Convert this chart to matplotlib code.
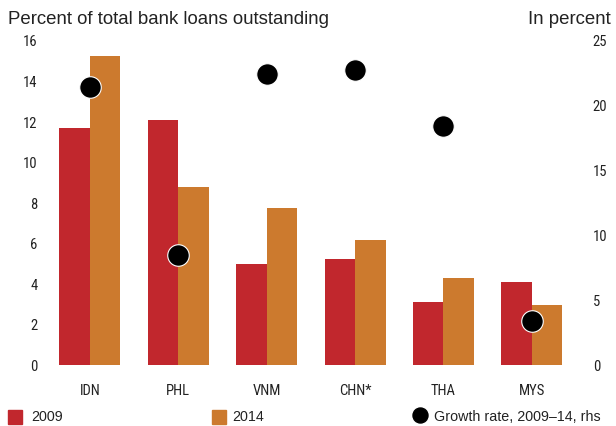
import matplotlib
matplotlib.use("Agg")
import matplotlib.pyplot as plt
import numpy as np
from matplotlib.lines import Line2D

categories = ["IDN", "PHL", "VNM", "CHN*", "THA", "MYS"]
share_2009 = [11.66, 12.07, 4.96, 5.21, 3.10, 4.08]
share_2014 = [15.23, 8.75, 7.72, 6.14, 4.28, 2.93]
growth = [21.4, 8.44, 22.36, 22.7, 18.35, 3.37]
left_ticks = [0, 2, 4, 6, 8, 10, 12, 14, 16]
right_ticks = [0, 5, 10, 15, 20, 25]

RED = "#C1272D"
ORANGE = "#CC7A2E"
TXT = "#222222"
COND = ["Liberation Sans Narrow", "Roboto Condensed", "DejaVu Sans Condensed",
        "Liberation Sans", "DejaVu Sans"]
REG = ["Liberation Sans", "DejaVu Sans"]
plt.rcParams["font.family"] = COND

fig = plt.figure(figsize=(6.16, 4.27), dpi=100)
ax = fig.add_axes([45.8 / 616, 1 - 365.5 / 427, (576 - 45.8) / 616, (365.5 - 41) / 427])
x = np.arange(len(categories))
w = 0.345
ax.bar(x - w / 2, share_2009, width=w, color=RED, linewidth=0)
ax.bar(x + w / 2, share_2014, width=w, color=ORANGE, linewidth=0)
ax.set_xlim(-0.5, len(categories) - 0.5)
ax.set_ylim(0, 16)
ax.set_yticks(left_ticks)
ax.set_xticks(x)
ax.set_xticklabels(categories)
for s in ax.spines.values():
    s.set_visible(False)
ax.tick_params(axis="both", length=0, labelsize=10.5, colors=TXT)
ax.tick_params(axis="y", pad=6)
ax.tick_params(axis="x", pad=13)

ax2 = ax.twinx()
ax2.set_ylim(0, 25)
ax2.set_yticks(right_ticks)
ax2.plot(x, growth, linestyle="none", marker="o", markersize=15.5,
         markerfacecolor="black", markeredgecolor="white", markeredgewidth=0.8, zorder=5)
for s in ax2.spines.values():
    s.set_visible(False)
ax2.tick_params(axis="y", length=0, labelsize=10.5, colors=TXT, pad=12)

fig.text(8 / 616, 1 - 19 / 427, "Percent of total bank loans outstanding",
         fontsize=13.4, va="center", ha="left", color=TXT, family=REG)
fig.text(611 / 616, 1 - 19 / 427, "In percent",
         fontsize=13.4, va="center", ha="right", color=TXT, family=REG)

# legend row
leg_y = 1 - 417 / 427
fig.patches.append(plt.Rectangle((8 / 616, 1 - 425 / 427), 14 / 616, 14 / 427,
                                 transform=fig.transFigure, color=RED, figure=fig))
fig.text(31 / 616, leg_y, "2009", fontsize=10.3, va="center", ha="left", color=TXT, family=REG)
fig.patches.append(plt.Rectangle((212 / 616, 1 - 425 / 427), 14 / 616, 14 / 427,
                                 transform=fig.transFigure, color=ORANGE, figure=fig))
fig.text(232 / 616, leg_y, "2014", fontsize=10.3, va="center", ha="left", color=TXT, family=REG)
fig.lines.append(Line2D([419.5 / 616], [1 - 416 / 427], transform=fig.transFigure,
                        marker="o", markersize=10.8, color="black", linestyle="none"))
fig.text(434 / 616, leg_y, "Growth rate, 2009\u201314, rhs", fontsize=10.3,
         va="center", ha="left", color=TXT, family=REG)

fig.savefig("out.png", dpi=100)
